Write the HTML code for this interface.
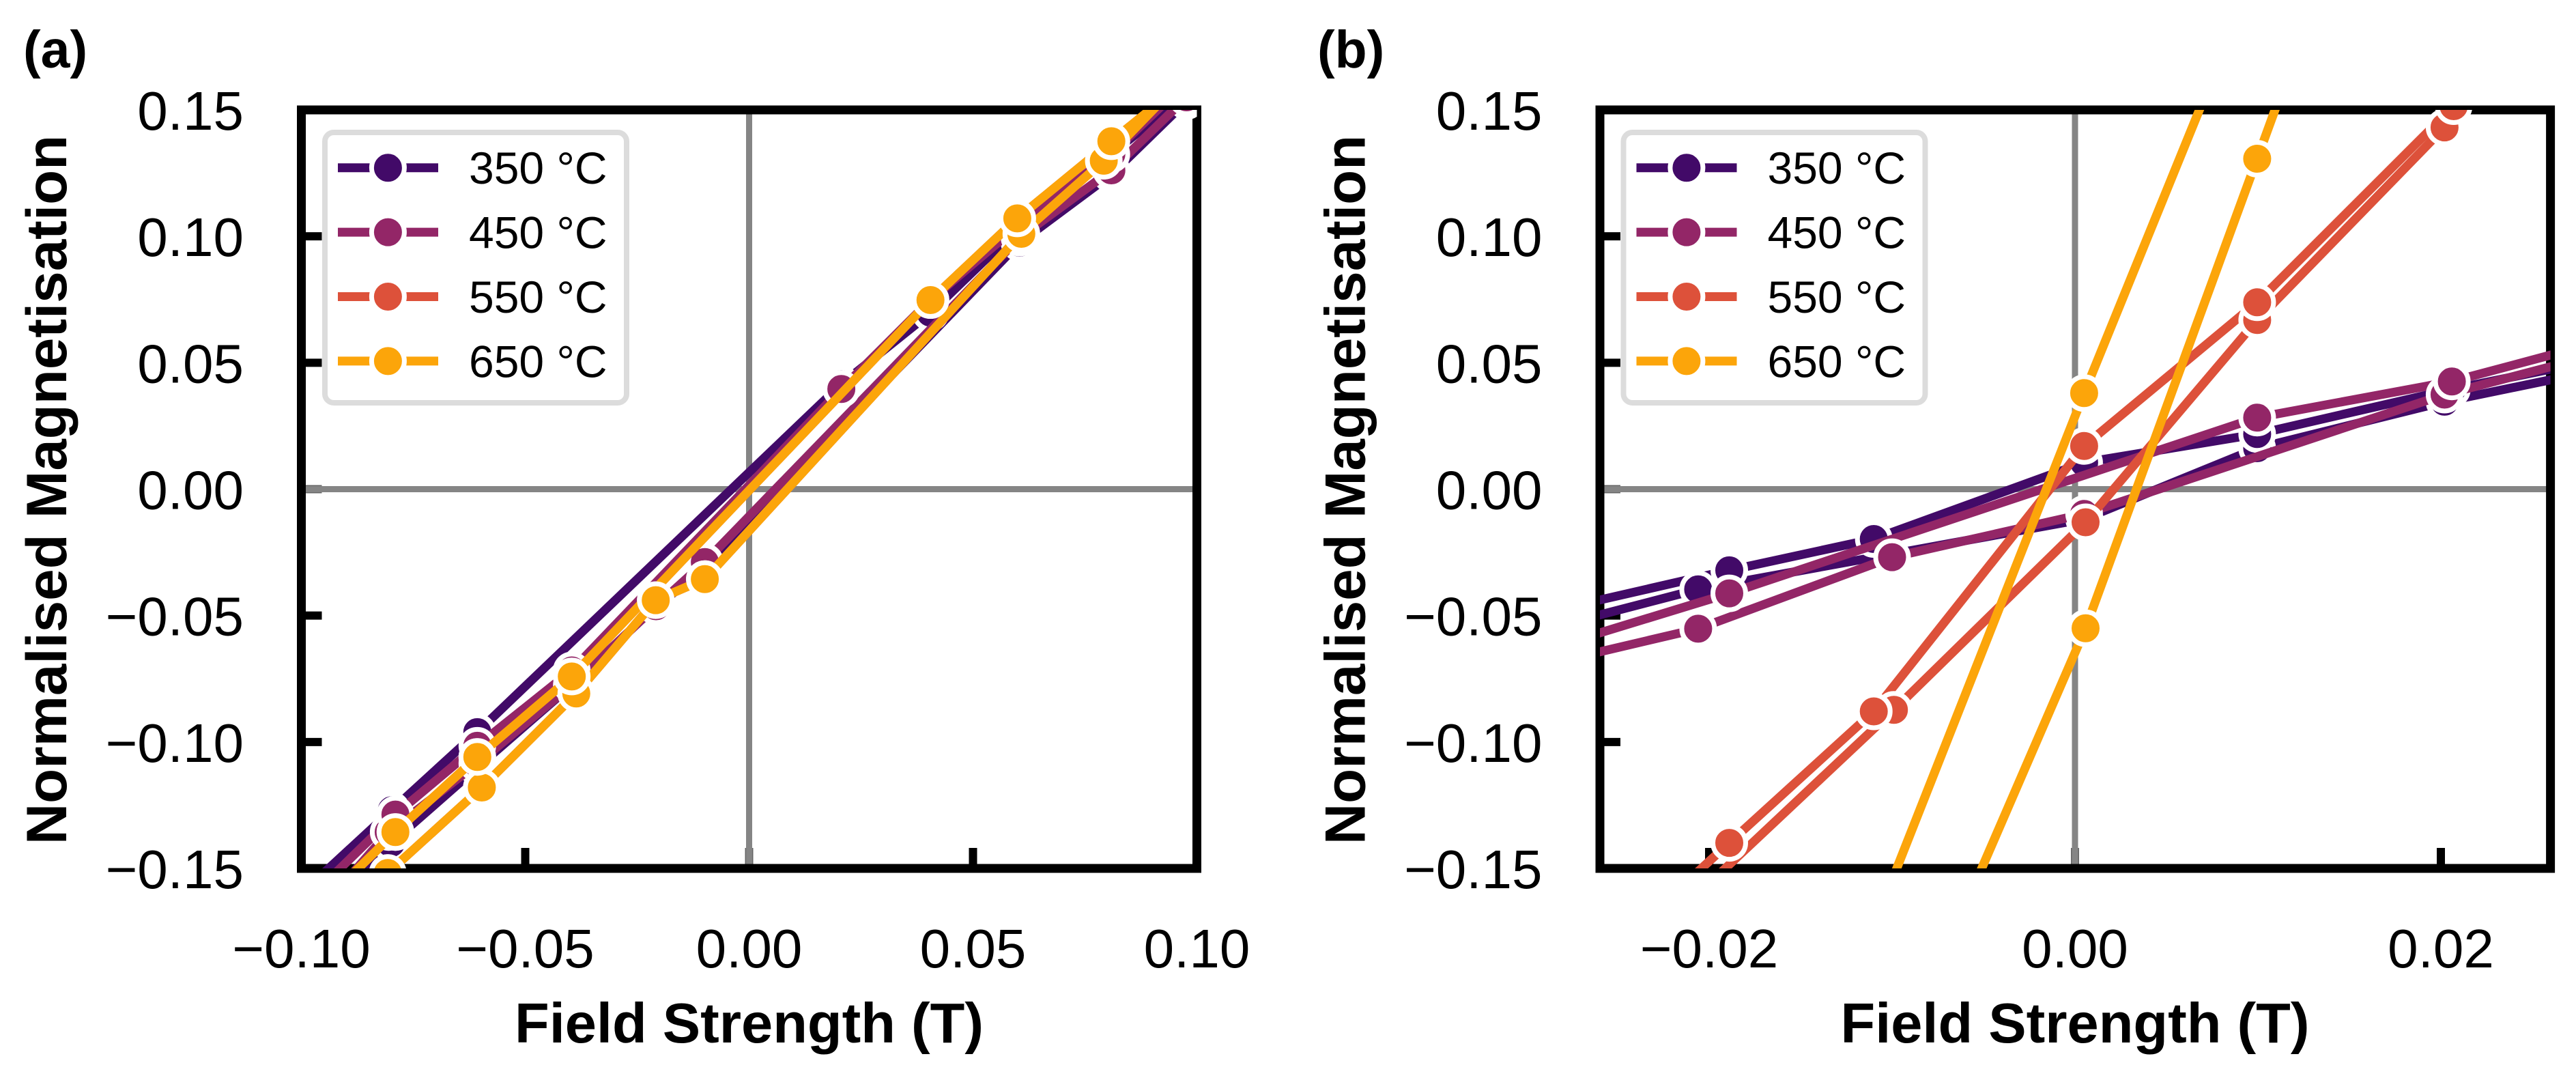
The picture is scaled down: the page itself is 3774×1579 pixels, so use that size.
<!DOCTYPE html>
<html lang="en">
<head>
<meta charset="utf-8">
<title>Normalised magnetisation hysteresis</title>
<style>
html,body{margin:0;padding:0;background:#fff;overflow:hidden;width:3774px;height:1579px;}
svg{display:block;}
text{font-family:"Liberation Sans",Arial,sans-serif;fill:#000;}
</style>
</head>
<body>
<svg id="chart" xmlns="http://www.w3.org/2000/svg" width="3774" height="1579" viewBox="0 0 3774 1579"></svg>
<script>
// ---- shared labels and ticks ----
const seriesLabels = ['350 °C', '450 °C', '550 °C', '650 °C'];
const seriesColors = ['#420a68', '#932667', '#dd513a', '#fca50a'];
const yTicks = [-0.15, -0.10, -0.05, 0.00, 0.05, 0.10, 0.15];
const yTickLabels = ['−0.15', '−0.10', '−0.05', '0.00', '0.05', '0.10', '0.15'];
const xTicksA = [-0.10, -0.05, 0.00, 0.05, 0.10];
const xTickLabelsA = ['−0.10', '−0.05', '0.00', '0.05', '0.10'];
const xTicksB = [-0.02, 0.00, 0.02];
const xTickLabelsB = ['−0.02', '0.00', '0.02'];

// ---- panel (a): field (T), each loop runs lower branch then upper branch ----
const a350x = [-0.1, -0.08, -0.0607, -0.0396, -0.0208, -0.0099, 0.0604, 0.0809, 0.0977, 0.1, 0.1, 0.0809, 0.0599, 0.0405, 0.0206, -0.0607, -0.0798, -0.1];
const a350y = [-0.18, -0.14, -0.11, -0.0775, -0.0463, -0.0315, 0.0975, 0.1245, 0.1535, 0.155, 0.16, 0.1325, 0.103, 0.0698, 0.0415, -0.0961, -0.127, -0.16];
const a450x = [-0.1, -0.0805, -0.0607, -0.0396, -0.0208, -0.0099, 0.0604, 0.0809, 0.0977, 0.1, 0.1, 0.0809, 0.0599, 0.0405, 0.0206, -0.0396, -0.0607, -0.079, -0.1];
const a450y = [-0.175, -0.1356, -0.1085, -0.0775, -0.0463, -0.0288, 0.0995, 0.1261, 0.155, 0.16, 0.165, 0.1325, 0.104, 0.0748, 0.0396, -0.0717, -0.1015, -0.1287, -0.165];
const a550x = [-0.1, -0.0807, -0.0597, -0.0386, -0.02085, -0.0099, 0.0608, 0.0792, 0.1, 0.1, 0.0809, 0.0599, 0.0405, -0.0396, -0.0607, -0.079, -0.1];
const a550y = [-0.19, -0.1518, -0.118, -0.0808, -0.0439, -0.0356, 0.101, 0.1299, 0.168, 0.165, 0.1376, 0.1071, 0.0748, -0.0741, -0.1059, -0.1356, -0.172];
const a650x = [-0.1, -0.0807, -0.0597, -0.0386, -0.02085, -0.0099, 0.0608, 0.0792, 0.1, 0.1, 0.0809, 0.0599, 0.0405, -0.0396, -0.0607, -0.079, -0.1];
const a650y = [-0.19, -0.1518, -0.118, -0.0808, -0.0439, -0.0356, 0.101, 0.1299, 0.168, 0.165, 0.1376, 0.1071, 0.0748, -0.0741, -0.1059, -0.1356, -0.172];

// ---- panel (b): low-field zoom ----
const b350x = [-0.0265, -0.0206, 0.0005, 0.00996, 0.0202, 0.0265, 0.0265, 0.0206, 0.00996, 0.0005, -0.011, -0.0189, -0.0265];
const b350y = [-0.0507, -0.0396, -0.0118, 0.0162, 0.0346, 0.044, 0.0482, 0.0395, 0.0218, 0.0105, -0.0197, -0.0321, -0.0447];
const b450x = [-0.0265, -0.0206, -0.01, 0.0005, 0.0202, 0.0265, 0.0265, 0.0206, 0.00996, -0.0189, -0.0265];
const b450y = [-0.0652, -0.0552, -0.0269, -0.0098, 0.0374, 0.0494, 0.054, 0.0426, 0.0283, -0.0412, -0.058];
const b550x = [-0.02647, -0.0099, 0.00058, 0.00996, 0.0202, 0.02674, 0.0265, 0.0207, 0.00996, 0.0005, -0.011, -0.0189, -0.02795];
const b550y = [-0.2, -0.0873, -0.0131, 0.0669, 0.1431, 0.185, 0.19, 0.1515, 0.0739, 0.0171, -0.0879, -0.1399, -0.2];
const b650x = [-0.00809, 0.00058, 0.00996, 0.01295, 0.00905, 0.0005, -0.01247];
const b650y = [-0.2, -0.055, 0.1307, 0.19, 0.19, 0.038, -0.2];

const NS = 'http://www.w3.org/2000/svg';
const svg = document.getElementById('chart');
function mk(tag, attrs, parent) {
  const n = document.createElementNS(NS, tag);
  for (const k in attrs) n.setAttribute(k, attrs[k]);
  parent.appendChild(n);
  return n;
}

// y axis is shared by both panels
function yScale(v) { return 716.5 - v * 3703.3; }

function drawPanel(cfg) {
  const g = mk('g', {}, svg);
  
  
  const xScale = v => cfg.x0 + v * cfg.k;
  const dx = cfg.dx;
  const left = 441.5 + dx, right = cfg.right, top = 161, bottom = 1272;

  // y ticks
  yTicks.forEach((v, i) => {
    const isZero = Math.abs(v) < 1e-9;
    const t = mk('line', {x1: left, x2: left + 30, y1: yScale(v), y2: yScale(v), stroke: isZero ? '#666' : '#000', 'stroke-width': 12}, g);
    
    
    const l = mk('text', {x: 357 + dx, y: yScale(v) + 29, 'text-anchor': 'end', 'font-size': 80}, g);
    l.textContent = yTickLabels[i];
    
    
  });
  // x ticks
  cfg.xTicks.forEach((v, i) => {
    const isZero = Math.abs(v) < 1e-9;
    const t = mk('line', {x1: xScale(v), x2: xScale(v), y1: bottom, y2: bottom - 30, stroke: isZero ? '#666' : '#000', 'stroke-width': 12}, g);
    
    
    const l = mk('text', {x: xScale(v), y: 1417, 'text-anchor': 'middle', 'font-size': 80}, g);
    l.textContent = cfg.xLabels[i];
    
    
  });

  // zero reference lines
  const zeroV = mk('line', {x1: xScale(0), x2: xScale(0), y1: top, y2: bottom, stroke: '#858585', 'stroke-width': 9}, g);
  
  
  const zeroH = mk('line', {x1: left, x2: right, y1: yScale(0), y2: yScale(0), stroke: '#858585', 'stroke-width': 9}, g);
  
  

  // frame
  const frame = mk('rect', {x: left, y: top, width: right - left, height: bottom - top, fill: 'none', stroke: '#000', 'stroke-width': 13}, g);
  
  

  // clip for data
  const clip = mk('clipPath', {id: 'clip-' + cfg.id}, g);
  mk('rect', {x: left, y: top, width: right - left, height: bottom - top}, clip);
  const data = mk('g', {'clip-path': 'url(#clip-' + cfg.id + ')'}, g);
  
  

  cfg.series.forEach((s, si) => {
    const sg = mk('g', {}, data);
    
    
    const pts = s.x.map((xv, i) => xScale(xv).toFixed(1) + ',' + yScale(s.y[i]).toFixed(1)).join(' ');
    const line = mk('polyline', {points: pts, fill: 'none', stroke: seriesColors[si], 'stroke-width': 13, 'stroke-linejoin': 'round'}, sg);
    
    
    s.x.forEach((xv, i) => {
      const px = xScale(xv), py = yScale(s.y[i]);
      // points beyond the axes limits are only line continuations
      if (px <= left || px >= right || py < top - 29 || py > bottom + 29) return;
      const c = mk('circle', {cx: px.toFixed(1), cy: py.toFixed(1), r: 24, fill: seriesColors[si], stroke: '#fff', 'stroke-width': 7}, sg);
      
      
    });
  });

  // legend
  const lg = mk('g', {}, g);
  
  
  const box = mk('rect', {x: 476 + dx, y: 194, width: 442, height: 396, rx: 13, ry: 13, fill: '#fff', stroke: '#dcdcdc', 'stroke-width': 8}, lg);
  
  
  seriesLabels.forEach((label, i) => {
    const ry = 245.7 + i * 94.4;
    const e = mk('g', {}, lg);
    
    
    const hl = mk('line', {x1: 495 + dx, x2: 642 + dx, y1: ry, y2: ry, stroke: seriesColors[i], 'stroke-width': 13}, e);
    
    
    const hc = mk('circle', {cx: 568.4 + dx, cy: ry, r: 24, fill: seriesColors[i], stroke: '#fff', 'stroke-width': 7}, e);
    
    
    const ht = mk('text', {x: 687 + dx, y: ry + 23.5, 'font-size': 66}, e);
    ht.textContent = label;
    
    
  });

  // axis titles and panel letter
  const xt = mk('text', {x: cfg.x0, y: 1527, 'text-anchor': 'middle', 'font-size': 83, 'font-weight': 'bold'}, g);
  xt.textContent = 'Field Strength (T)';
  
  
  const yt = mk('text', {x: 0, y: 0, 'text-anchor': 'middle', 'font-size': 83.5, 'font-weight': 'bold', transform: 'translate(' + (97 + dx) + ',717.5) rotate(-90)'}, g);
  yt.textContent = 'Normalised Magnetisation';
  
  
  const pl = mk('text', {x: cfg.letterX, y: 99, 'font-size': 77, 'font-weight': 'bold'}, g);
  pl.textContent = '(' + cfg.id + ')';
  
  
}

drawPanel({
  id: 'a', dx: 0, x0: 1097.5, k: 6560, right: 1753.5, letterX: 34,
  xTicks: xTicksA, xLabels: xTickLabelsA,
  series: [{x: a350x, y: a350y}, {x: a450x, y: a450y}, {x: a550x, y: a550y}, {x: a650x, y: a650y}]
});
drawPanel({
  id: 'b', dx: 1902.5, x0: 3040, k: 26800, right: 3736.6, letterX: 1930,
  xTicks: xTicksB, xLabels: xTickLabelsB,
  series: [{x: b350x, y: b350y}, {x: b450x, y: b450y}, {x: b550x, y: b550y}, {x: b650x, y: b650y}]
});
</script>
</body>
</html>
